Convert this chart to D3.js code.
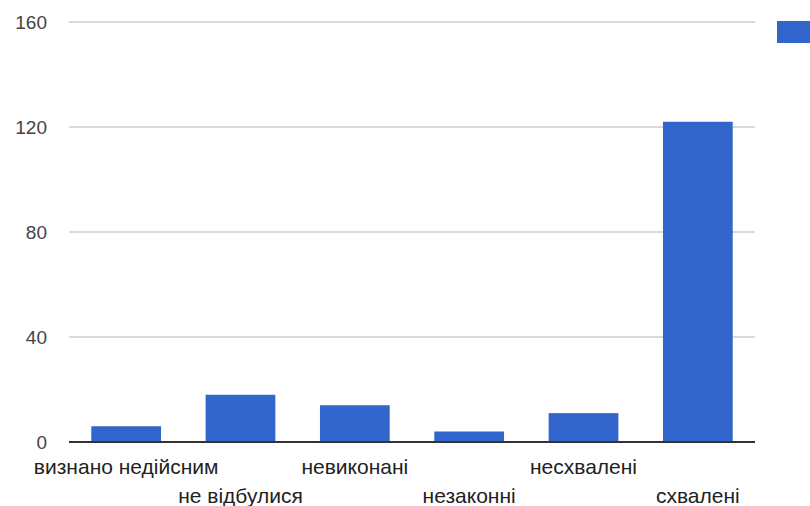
<!DOCTYPE html>
<html>
<head>
<meta charset="utf-8">
<script src="https://cdn.jsdelivr.net/npm/d3@7"></script>
<style>
  body { margin: 0; background: #fff; }
  svg { display: block; font-family: "Liberation Sans", Arial, sans-serif; }
</style>
</head>
<body>
<script>
// categories and values
let categories = ['визнано недійсним', 'не відбулися', 'невиконані', 'незаконні', 'несхвалені', 'схвалені']
let values = [6, 18, 14, 4, 11, 122]
let yTicks = [0, 40, 80, 120, 160]

let width = 810, height = 506
let margin = {top: 22, bottom: 64, left: 69, right: 55}

let svg = d3.select('body').append('svg').attr('width', width).attr('height', height)

let yScale = d3.scaleLinear().domain([0, 160]).range([height - margin.bottom, margin.top])
let xScale = d3.scaleBand().domain(categories).range([margin.left, width - margin.right])
  .paddingInner(0.39).paddingOuter(0.195)

// gridlines
svg.append('g').selectAll('line').data(yTicks.filter(d => d > 0)).enter()
  .append('line')
  .attr('x1', margin.left).attr('x2', width - margin.right)
  .attr('y1', d => yScale(d)).attr('y2', d => yScale(d))
  .attr('stroke', '#cccccc').attr('stroke-width', 1.5)

// y axis labels
let yAxis = svg.append('g').attr('transform', `translate(${margin.left - 22},0)`)
  .call(d3.axisLeft(yScale).tickValues(yTicks).tickSize(0).tickPadding(0))
yAxis.select('.domain').remove()
yAxis.selectAll('text').style('font-size', '19px').attr('fill', '#444').attr('dy', '0.35em')

// bars
svg.selectAll('rect.bar').data(values).enter()
  .append('rect').attr('class', 'bar')
  .attr('x', (d, i) => xScale(categories[i]))
  .attr('y', d => yScale(d))
  .attr('width', xScale.bandwidth())
  .attr('height', d => yScale(0) - yScale(d))
  .attr('fill', '#3366cc')

// baseline
svg.append('line')
  .attr('x1', margin.left).attr('x2', width - margin.right)
  .attr('y1', yScale(0)).attr('y2', yScale(0))
  .attr('stroke', '#333').attr('stroke-width', 2)

// x labels, staggered on two rows
let xAxis = svg.append('g').attr('transform', `translate(0,${yScale(0)})`)
  .call(d3.axisBottom(xScale).tickSize(0).tickPadding(0))
xAxis.select('.domain').remove()
xAxis.selectAll('text')
  .style('font-size', '21px').attr('fill', '#222')
  .attr('y', (d, i) => i % 2 == 0 ? 32 : 61)
  .attr('dy', 0)

// legend (cut off at the right edge)
svg.append('rect').attr('x', 777).attr('y', 21).attr('width', 40).attr('height', 22).attr('fill', '#3366cc')
</script>
</body>
</html>
